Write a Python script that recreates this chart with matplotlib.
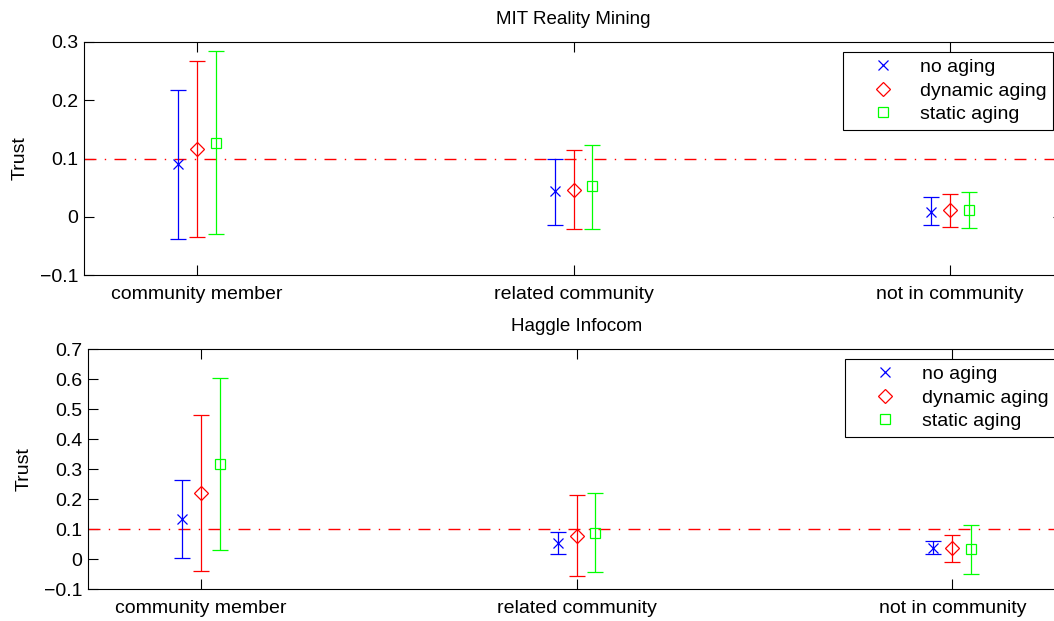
import matplotlib
matplotlib.use("Agg")
import matplotlib.pyplot as plt
import numpy as np

plt.rcParams["font.family"] = ["Liberation Sans", "DejaVu Sans"]

categories = ["community member", "related community", "not in community"]
series = ["no aging", "dynamic aging", "static aging"]

# MIT Reality Mining: mean, upper and lower end of the error bars
mit_mean = [[0.090, 0.044, 0.009],
            [0.117, 0.046, 0.011],
            [0.127, 0.052, 0.012]]
mit_hi = [[0.217, 0.100, 0.034],
          [0.268, 0.114, 0.039],
          [0.284, 0.124, 0.042]]
mit_lo = [[-0.038, -0.014, -0.015],
          [-0.034, -0.021, -0.018],
          [-0.030, -0.021, -0.020]]

# Haggle Infocom
hag_mean = [[0.132, 0.054, 0.038],
            [0.219, 0.077, 0.036],
            [0.317, 0.088, 0.032]]
hag_hi = [[0.262, 0.091, 0.060],
          [0.480, 0.213, 0.080],
          [0.602, 0.221, 0.113]]
hag_lo = [[0.002, 0.017, 0.017],
          [-0.040, -0.057, -0.009],
          [0.030, -0.044, -0.050]]

threshold = 0.1

COLORS = ["#0000ff", "#ff0000", "#00ff00"]
MARKERS = ["x", "D", "s"]
MSIZES = [6.5, 7, 7.5]
OFFSETS = [-0.05, 0.0, 0.05]
FS = 14


def panel(ax, title, mean, hi, lo, ylim, yticks):
    x = np.arange(1, len(categories) + 1)
    for i, name in enumerate(series):
        m = np.array(mean[i])
        err = [m - np.array(lo[i]), np.array(hi[i]) - m]
        ax.errorbar(x + OFFSETS[i], m, yerr=err, fmt="none", ecolor=COLORS[i],
                    elinewidth=0.9, capsize=5.7, capthick=0.9, zorder=3)
        ax.plot(x + OFFSETS[i], m, linestyle="none", marker=MARKERS[i],
                markersize=MSIZES[i], markerfacecolor="none",
                markeredgecolor=COLORS[i], markeredgewidth=0.9,
                label=name, zorder=4)
    ax.axhline(threshold, color="#ff0000", lw=1.0,
               linestyle=(0, (8.6, 6, 1, 6)), zorder=2)
    ax.set_xlim(0.7, 3.3)
    ax.set_ylim(*ylim)
    ax.set_yticks(yticks)
    ax.set_yticklabels(["\u22120.1" if v < 0 else ("0" if v == 0 else f"{v:.1f}")
                        for v in yticks])
    ax.set_xticks(x)
    ax.set_xticklabels(categories)
    ax.tick_params(direction="in", length=7, width=0.8, labelsize=FS,
                   top=True, right=True, pad=4)
    ax.tick_params(axis="x", pad=8)
    ax.set_ylabel("Trust", fontsize=FS, labelpad=8)
    ax.set_title(title, fontsize=13.5, pad=13)
    for s in ax.spines.values():
        s.set_linewidth(0.8)
    leg = ax.legend(loc="upper right", fontsize=FS, frameon=True, fancybox=False,
                    edgecolor="black", borderaxespad=0.5, handlelength=3.4,
                    handletextpad=0.2, borderpad=0.35, labelspacing=0.3)
    leg.get_frame().set_linewidth(0.8)
    leg.get_frame().set_alpha(1)


fig = plt.figure(figsize=(10.54, 6.21), dpi=100)
ax1 = fig.add_axes([84 / 1054, 1 - 275 / 621, (1063 - 84) / 1054, (275 - 42) / 621])
ax2 = fig.add_axes([88 / 1054, 1 - 589 / 621, (1065 - 88) / 1054, (589 - 349) / 621])

panel(ax1, "MIT Reality Mining", mit_mean, mit_hi, mit_lo,
      (-0.1, 0.3), [-0.1, 0, 0.1, 0.2, 0.3])
panel(ax2, "Haggle Infocom", hag_mean, hag_hi, hag_lo,
      (-0.1, 0.7), [-0.1, 0, 0.1, 0.2, 0.3, 0.4, 0.5, 0.6, 0.7])

fig.savefig("out.png", dpi=100)
